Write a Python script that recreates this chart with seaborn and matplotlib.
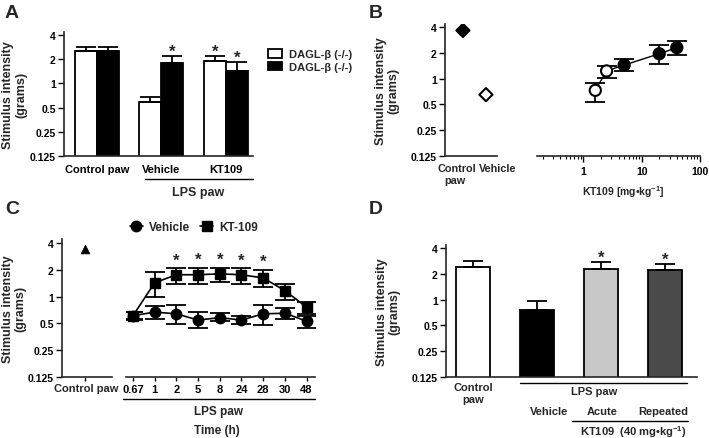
import pandas as pd
import seaborn as sns
import matplotlib.pyplot as plt
from matplotlib.lines import Line2D
from matplotlib.patches import Patch
from matplotlib.ticker import NullLocator, LogLocator, NullFormatter
#---------------------------------------------------------------------------#
# A: DAGL-beta bars
a_groups = ['Control paw', 'Vehicle', 'KT109']
a_wt = [2.55, 0.59, 1.9]
a_wt_err = [0.26, 0.08, 0.27]
a_ko = [2.55, 1.78, 1.41]
a_ko_err = [0.26, 0.43, 0.45]
a_wt_sig = [False, False, True]
a_ko_sig = [False, True, True]
a_legend = ['DAGL-\u03b2 (-/-)', 'DAGL-\u03b2 (-/-)']

# B: dose response
b_cats = ['Control', 'Vehicle']
b_ctrl = [3.65, 0.65]
b_dose = [1.6, 2.5, 5, 20, 40]
b_mean = [0.73, 1.23, 1.44, 1.95, 2.3]
b_lo = [0.54, 1.03, 1.23, 1.5, 1.9]
b_hi = [0.9, 1.4, 1.7, 2.5, 2.77]
b_fill = ['open', 'open', 'filled', 'filled', 'filled']

# C: time course
c_ctrl = 3.45
c_times = ['0.67', '1', '2', '5', '8', '24', '28', '30', '48']
c_veh = [0.61, 0.67, 0.64, 0.545, 0.58, 0.545, 0.64, 0.65, 0.53]
c_veh_lo = [0.56, 0.56, 0.49, 0.44, 0.53, 0.49, 0.48, 0.56, 0.44]
c_veh_hi = [0.67, 0.79, 0.81, 0.68, 0.65, 0.61, 0.81, 0.74, 0.61]
c_kt = [0.61, 1.43, 1.76, 1.76, 1.8, 1.76, 1.62, 1.17, 0.76]
c_kt_lo = [0.55, 0.98, 1.39, 1.37, 1.45, 1.37, 1.27, 0.92, 0.64]
c_kt_hi = [0.68, 1.88, 2.07, 2.1, 2.1, 2.07, 2.0, 1.37, 0.86]
c_sig = [False, False, True, True, True, True, True, False, False]

# D: acute vs repeated
d_groups = ['Control', 'Vehicle', 'Acute', 'Repeated']
d_mean = [2.42, 0.76, 2.28, 2.22]
d_err = [0.38, 0.2, 0.44, 0.38]
d_colors = ['white', 'black', '#c8c8c8', '#4a4a4a']
d_sig = [False, False, True, True]

yticks = [0.125, 0.25, 0.5, 1, 2, 4]
ytick_labels = ['0.125', '0.25', '0.5', '1', '2', '4']
#---------------------------------------------------------------------------#
sns.set_style('ticks')
plt.rcParams['font.family'] = ['Liberation Sans', 'DejaVu Sans']
plt.rcParams['font.weight'] = 'bold'
plt.rcParams['axes.labelweight'] = 'bold'
plt.rcParams['mathtext.fontset'] = 'custom'
plt.rcParams['mathtext.rm'] = 'Liberation Sans:bold'
plt.rcParams['mathtext.bf'] = 'Liberation Sans:bold'
plt.rcParams['axes.linewidth'] = 1.2
plt.rcParams['xtick.major.width'] = 1
plt.rcParams['ytick.major.width'] = 1
plt.rcParams['xtick.labelsize'] = 8
plt.rcParams['ytick.labelsize'] = 7.5
plt.rcParams['xtick.color'] = 'black'
plt.rcParams['ytick.color'] = 'black'

W, H = 709, 439
fig = plt.figure(figsize=(W / 100, H / 100), dpi=100)


def add_ax(l, t, r, b):
    return fig.add_axes([l / W, 1 - b / H, (r - l) / W, (b - t) / H])


def ftext(x, y, s, **kw):
    kw.setdefault('ha', 'center')
    kw.setdefault('va', 'center')
    kw.setdefault('fontsize', 8)
    fig.text(x / W, 1 - y / H, s, **kw)


def fline(x0, x1, y):
    fig.add_artist(Line2D([x0 / W, x1 / W], [1 - y / H, 1 - y / H],
                          color='black', lw=1, transform=fig.transFigure))


def log2_y(ax, show=True):
    ax.set_yscale('log', base=2)
    ax.set_ylim(0.125, 4.4)
    ax.yaxis.set_minor_locator(NullLocator())
    if show:
        ax.set_yticks(yticks)
        ax.set_yticklabels(ytick_labels)
        ax.tick_params(axis='y', length=4, pad=2)
    else:
        ax.set_yticks([])
        ax.spines['left'].set_visible(False)
    ax.spines['top'].set_visible(False)
    ax.spines['right'].set_visible(False)


def star(ax, x, y):
    ax.text(x, y * 1.15, '*', ha='center', va='center', fontsize=12)


def ylabel(ax, pad):
    ax.set_ylabel('Stimulus intensity\n(grams)', fontsize=9, labelpad=pad, linespacing=1.05)


# ---------------- A
axA = add_ax(64, 32.7, 253, 157)
dfa = pd.DataFrame({'group': a_groups * 2,
                    'geno': ['wt'] * 3 + ['ko'] * 3,
                    'val': a_wt + a_ko})
sns.barplot(data=dfa, x='group', y='val', hue='geno', palette=['white', 'black'],
            edgecolor='black', linewidth=1.3, width=0.68, errorbar=None,
            legend=False, ax=axA)
log2_y(axA)
axA.set_xlim(-0.51, 2.42)
for cont, err, sig in zip(axA.containers, [a_wt_err, a_ko_err], [a_wt_sig, a_ko_sig]):
    xs = [p.get_x() + p.get_width() / 2 for p in cont]
    hs = [p.get_height() for p in cont]
    axA.errorbar(xs, hs, yerr=[[0] * len(err), err], fmt='none', ecolor='black',
                 elinewidth=1.3, capsize=7, capthick=1.3)
    for x, h, e, s in zip(xs, hs, err, sig):
        if s:
            star(axA, x, h + e)
axA.tick_params(axis='x', length=0, pad=6)
axA.set_xlabel('')
ylabel(axA, 2)
fig.legend(handles=[Patch(facecolor='white', edgecolor='black', lw=1.3),
                    Patch(facecolor='black', edgecolor='black', lw=1.3)],
           labels=a_legend, loc='upper left', bbox_to_anchor=(258 / W, 1 - 40 / H),
           frameon=False, fontsize=8, handlelength=1.3, handleheight=0.8,
           handletextpad=0.6, labelspacing=0.25)
fline(145, 253, 180)
ftext(198, 193, 'LPS paw', fontsize=9)

# ---------------- B
axB1 = add_ax(445, 24.5, 497, 157)
sns.scatterplot(x=[0, 1], y=b_ctrl, hue=b_cats, palette={'Control': 'black', 'Vehicle': 'white'},
                marker='D', s=45, edgecolor='black', linewidth=1.5, legend=False, ax=axB1)
log2_y(axB1)
axB1.set_xlim(-0.78, 1.48)
axB1.set_xticks([])
ylabel(axB1, 8)
ftext(457, 169, 'Control', fontsize=7.8)
ftext(455, 181, 'paw', fontsize=7.8)
ftext(498, 169, 'Vehicle', fontsize=7.8)

axB2 = add_ax(537, 24.5, 700, 157)
axB2.set_xscale('log')
sns.lineplot(x=b_dose, y=b_mean, color='black', lw=1, ax=axB2)
axB2.errorbar(b_dose, b_mean,
              yerr=[[m - l for m, l in zip(b_mean, b_lo)], [h - m for m, h in zip(b_mean, b_hi)]],
              fmt='none', ecolor='black', elinewidth=1.3, capsize=7, capthick=1.3)
sns.scatterplot(x=b_dose, y=b_mean, hue=b_fill, palette={'open': 'white', 'filled': 'black'},
                s=65, edgecolor='black', linewidth=1.5, legend=False, zorder=3, ax=axB2)
log2_y(axB2, show=False)
axB2.set_xlim(0.16, 100)
axB2.set_xticks([1, 10, 100])
axB2.set_xticklabels(['1', '10', '100'])
axB2.xaxis.set_minor_locator(LogLocator(base=10, subs=range(2, 10)))
axB2.xaxis.set_minor_formatter(NullFormatter())
axB2.tick_params(axis='x', which='major', length=4, pad=3, labelsize=7.5)
axB2.tick_params(axis='x', which='minor', length=2, width=0.8, bottom=True)
ftext(623, 192, 'KT109 [mg\u2022kg$^{-1}$]', fontsize=7.5)

# ---------------- C
axC1 = add_ax(62, 240.3, 112, 378)
sns.scatterplot(x=[0], y=[c_ctrl], marker='^', s=40, color='black', edgecolor='black',
                legend=False, ax=axC1)
log2_y(axC1)
axC1.set_xlim(-0.92, 1.08)
axC1.set_xticks([0])
axC1.set_xticklabels([''])
axC1.tick_params(axis='x', length=3)
ylabel(axC1, 1)
ftext(86, 389, 'Control paw', fontsize=8)

axC2 = add_ax(126, 240.3, 315, 378)
idx = list(range(len(c_times)))
sns.lineplot(x=idx, y=c_veh, color='black', lw=1.2, ax=axC2)
sns.lineplot(x=idx, y=c_kt, color='black', lw=1.2, ax=axC2)
axC2.errorbar(idx, c_veh,
              yerr=[[m - l for m, l in zip(c_veh, c_veh_lo)], [h - m for m, h in zip(c_veh, c_veh_hi)]],
              fmt='o', color='black', ms=7.5, elinewidth=1.3, capsize=7, capthick=1.3)
axC2.errorbar(idx, c_kt,
              yerr=[[m - l for m, l in zip(c_kt, c_kt_lo)], [h - m for m, h in zip(c_kt, c_kt_hi)]],
              fmt='s', color='black', ms=7.5, elinewidth=1.3, capsize=7, capthick=1.3)
for i, s in enumerate(c_sig):
    if s:
        axC2.text(i, c_kt_hi[i] * 1.25, '*', ha='center', va='center', fontsize=12)
log2_y(axC2, show=False)
axC2.set_xlim(-0.32, 8.39)
axC2.set_xticks(idx)
axC2.set_xticklabels(c_times, fontsize=8)
axC2.tick_params(axis='x', length=3, pad=2)
fig.legend(handles=[Line2D([], [], color='black', lw=1.2, marker='o', ms=7.5),
                    Line2D([], [], color='black', lw=1.2, marker='s', ms=7.5)],
           labels=['Vehicle', 'KT-109'], loc='center left', bbox_to_anchor=(119 / W, 1 - 228 / H),
           ncol=2, frameon=False, fontsize=8.5, handlelength=1.1, handletextpad=0.5,
           columnspacing=0.9)
fline(123, 315, 400)
ftext(218, 412, 'LPS paw', fontsize=8.5)
ftext(217, 431, 'Time (h)', fontsize=8.5)

# ---------------- D
axD = add_ax(446, 245.5, 697, 378)
sns.barplot(x=d_groups, y=d_mean, hue=d_groups, palette=d_colors, edgecolor='black',
            linewidth=1.3, width=0.52, errorbar=None, legend=False, ax=axD)
log2_y(axD)
axD.set_xlim(-0.42, 3.5)
bars = [c[0] for c in axD.containers]
xs = [p.get_x() + p.get_width() / 2 for p in bars]
hs = [p.get_height() for p in bars]
axD.errorbar(xs, hs, yerr=[[0] * len(d_err), d_err], fmt='none', ecolor='black',
             elinewidth=1.3, capsize=7, capthick=1.3)
for x, h, e, s in zip(xs, hs, d_err, d_sig):
    if s:
        star(axD, x, h + e)
axD.set_xticks([])
ylabel(axD, 8)
ftext(473, 388, 'Control')
ftext(473, 400, 'paw')
fline(520, 687, 384)
ftext(594, 392, 'LPS paw')
ftext(549, 412, 'Vehicle')
ftext(602, 412, 'Acute')
ftext(663, 412, 'Repeated')
fline(572, 688, 422)
ftext(633, 432, 'KT109  (40 mg\u2022kg$^{-1}$)')

# panel letters
for x, y, s in [(5, 13, 'A'), (369, 13, 'B'), (5, 210, 'C'), (369, 210, 'D')]:
    ftext(x, y, s, ha='left', fontsize=14)

plt.savefig('out.png', dpi=100)
